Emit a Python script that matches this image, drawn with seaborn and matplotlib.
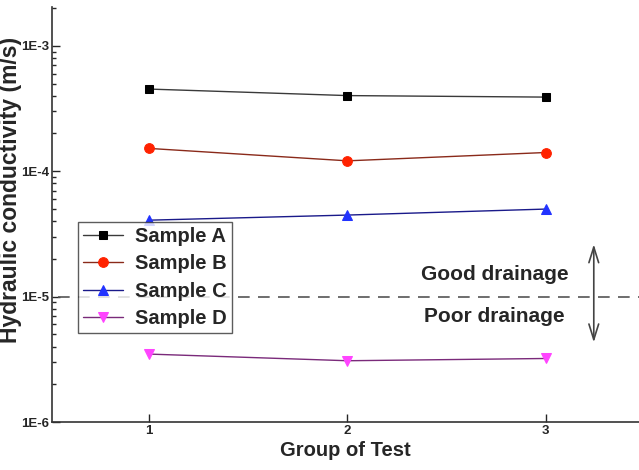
import matplotlib
matplotlib.use("Agg")
import matplotlib.pyplot as plt
from matplotlib.ticker import FuncFormatter, LogLocator, NullFormatter
import seaborn as sns
import numpy as np

# data
groups = [1, 2, 3]
sample_a = [4.52e-4, 4.01e-4, 3.90e-4]
sample_b = [1.52e-4, 1.21e-4, 1.41e-4]
sample_c = [4.07e-5, 4.47e-5, 4.99e-5]
sample_d = [3.48e-6, 3.08e-6, 3.21e-6]
names = ["Sample A", "Sample B", "Sample C", "Sample D"]
threshold = 1e-5

sns.set_style("ticks")
plt.rcParams["font.family"] = ["Liberation Sans", "DejaVu Sans"]
plt.rcParams["font.weight"] = "bold"

fig = plt.figure(figsize=(6.39, 4.70), dpi=100)
ax = fig.add_axes([52 / 639, 1 - 422 / 470, 587 / 639, 415 / 470])

series = [sample_a, sample_b, sample_c, sample_d]
line_colors = ["#3a3a3a", "#8a2a1a", "#1a1a8a", "#7a2a7a"]
marker_colors = ["#000000", "#ff2200", "#2233ff", "#ff44ff"]
markers = ["s", "o", "^", "v"]
sizes = [6, 7, 7.5, 7.5]

for vals, name, lc, mc, m, s in zip(series, names, line_colors, marker_colors, markers, sizes):
    sns.lineplot(x=groups, y=vals, ax=ax, color=lc, lw=1, marker=m,
                 markerfacecolor=mc, markeredgecolor=mc, ms=s, label=name)

ax.set_yscale("log")
ax.set_xlim(0.51, 3.47)
ax.set_ylim(1e-6, 2.04e-3)

# drainage threshold
ax.axhline(threshold, xmin=0.01, xmax=1, color="#555555", lw=1.2, dashes=(7, 5))
ax.text(2.742, 1.49e-5, "Good drainage", ha="center", va="center", fontsize=15, fontweight="bold")
ax.text(2.742, 7.0e-6, "Poor drainage", ha="center", va="center", fontsize=15, fontweight="bold")
ax.annotate("", xy=(3.242, 2.75e-5), xytext=(3.242, 4.1e-6),
            arrowprops=dict(arrowstyle="<->,head_width=0.25,head_length=0.8",
                            color="#444444", lw=1.2, mutation_scale=14))

ax.set_xticks(groups)
ax.yaxis.set_major_locator(LogLocator(base=10, numticks=10))
ax.yaxis.set_minor_locator(LogLocator(base=10, subs=np.arange(2, 10), numticks=10))
ax.yaxis.set_minor_formatter(NullFormatter())
ax.yaxis.set_major_formatter(FuncFormatter(lambda v, p: "1E%d" % int(round(np.log10(v)))))
ax.tick_params(axis="both", which="major", direction="in", length=6, width=1, labelsize=9.5, pad=2)
ax.tick_params(axis="both", which="minor", direction="in", length=3, width=1)
for lab in ax.get_xticklabels() + ax.get_yticklabels():
    lab.set_fontweight("bold")

sns.despine(ax=ax)
for sp in ["left", "bottom"]:
    ax.spines[sp].set_color("#333333")
    ax.spines[sp].set_linewidth(1.2)

ax.set_xlabel("Group of Test", fontsize=14.5, fontweight="bold", labelpad=3)
ax.set_ylabel("Hydraulic conductivity (m/s)", fontsize=16.5, fontweight="bold")
ax.yaxis.set_label_coords(-0.051, 0.559)

leg = ax.legend(loc="upper left", bbox_to_anchor=(0.044, 0.482), borderaxespad=0,
                fontsize=14.5, frameon=True, fancybox=False, handlelength=2.0,
                labelspacing=0.42, borderpad=0.25, handletextpad=0.6)
leg.get_frame().set_edgecolor("#333333")
leg.get_frame().set_linewidth(1)
for t in leg.get_texts():
    t.set_fontweight("bold")

fig.savefig("out.png", dpi=100)
